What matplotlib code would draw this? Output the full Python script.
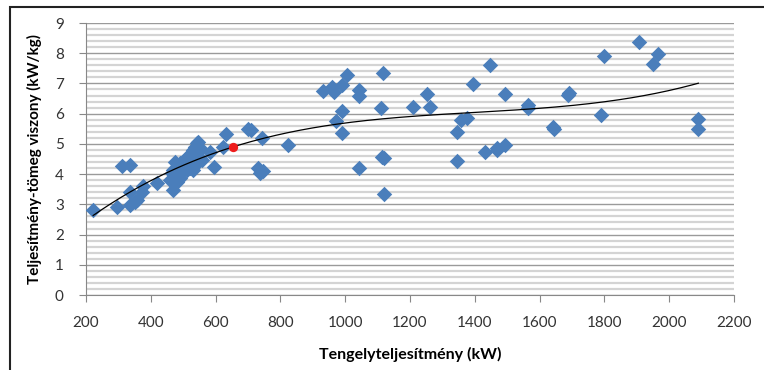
import numpy as np
import matplotlib.pyplot as plt
from matplotlib.patches import Rectangle
from matplotlib.ticker import MultipleLocator

plt.rcParams['font.family'] = ['Lato', 'DejaVu Sans']

# shaft power (kW) and power-to-weight ratio (kW/kg)
power = [222, 297, 312, 336, 336, 336, 351, 358, 372, 375, 420, 467,
         541, 547, 536, 531, 526, 516, 511, 500, 490, 475, 480, 470,
         464, 475, 485, 490, 470, 459, 511, 521, 531, 536, 547, 552,
         557, 541, 552, 521, 500, 490, 480,
         583, 596, 631, 624,
         700, 710, 742, 730, 745, 738, 824,
         932, 960, 965, 989, 1005, 1043, 1043, 1116, 989, 971, 991,
         1109, 1120, 1115, 1042, 1120,
         1210, 1253, 1262, 1393, 1447, 1493, 1565, 1565, 1691, 1688,
         1357, 1375, 1344, 1344, 1433, 1468, 1470, 1493, 1640, 1645,
         1800, 1907, 1964, 1951, 1789, 2090, 2090]
ratio = [2.81, 2.92, 4.28, 4.30, 3.42, 2.98, 3.09, 3.14, 3.42, 3.61, 3.69, 3.47,
         5.02, 5.07, 4.91, 4.80, 4.69, 4.60, 4.52, 4.41, 4.36, 4.41, 4.25, 4.14,
         4.03, 3.97, 3.92, 3.86, 3.81, 3.81, 4.14, 4.19, 4.14, 4.30, 4.41, 4.52,
         4.47, 4.69, 4.85, 4.47, 4.14, 4.08, 3.75,
         4.74, 4.25, 5.32, 4.91,
         5.48, 5.45, 5.18, 4.20, 4.10, 4.05, 4.96,
         6.75, 6.89, 6.73, 6.95, 7.28, 6.78, 6.59, 7.36, 6.09, 5.77, 5.35,
         6.18, 4.52, 4.55, 4.21, 3.33,
         6.21, 6.65, 6.23, 6.98, 7.61, 6.65, 6.29, 6.18, 6.67, 6.62,
         5.79, 5.85, 5.40, 4.45, 4.74, 4.86, 4.80, 4.96, 5.55, 5.48,
         7.92, 8.37, 7.99, 7.65, 5.96, 5.81, 5.48]

# highlighted engine
red_x = [653]
red_y = [4.90]

fig = plt.figure(figsize=(7.64, 3.70), dpi=100)
ax = fig.add_axes([0.1126, 0.2027, 0.8481, 0.7351])

# outer frame
fig.patches.append(Rectangle((10 / 764, -0.5), 1.5, 0.5 + 1 - 7 / 370,
                             transform=fig.transFigure, fill=False,
                             edgecolor='#222222', linewidth=1.5))

ax.scatter(power, ratio, marker='D', s=62, color='#4a7ebb', zorder=3, linewidths=0)

# trend line (3rd order polynomial)
x = np.array(power, float)
y = np.array(ratio)
coef = np.polyfit(x, y, 3)
xs = np.linspace(x.min(), x.max(), 200)
ax.plot(xs, np.polyval(coef, xs), color='black', linewidth=0.9, zorder=4)

ax.scatter(red_x, red_y, marker='o', s=45, color='#ee1c1c', zorder=5, linewidths=0)

ax.set_xlim(200, 2200)
ax.set_ylim(0, 9)
ax.xaxis.set_major_locator(MultipleLocator(200))
ax.yaxis.set_major_locator(MultipleLocator(1))
ax.yaxis.set_minor_locator(MultipleLocator(0.2))
ax.grid(which='minor', axis='y', color='#d4d4d4', linewidth=1.6)
ax.grid(which='major', axis='y', color='#9a9a9a', linewidth=1.0)
ax.set_axisbelow(True)
ax.tick_params(which='minor', left=False)
ax.tick_params(which='major', length=5, color='#888888', labelsize=11,
               labelcolor='#333333')
ax.tick_params(axis='x', pad=10)
ax.tick_params(axis='y', pad=11)
for s in ['top', 'right']:
    ax.spines[s].set_visible(False)
for s in ['left', 'bottom']:
    ax.spines[s].set_color('#888888')

ax.set_xlabel('Tengelyteljesítmény (kW)', fontsize=11.5, fontweight='bold', labelpad=12)
ax.set_ylabel('Teljesítmény-tömeg viszony (kW/kg)', fontsize=11, fontweight='bold', labelpad=9)

fig.savefig('out.png', dpi=100)
